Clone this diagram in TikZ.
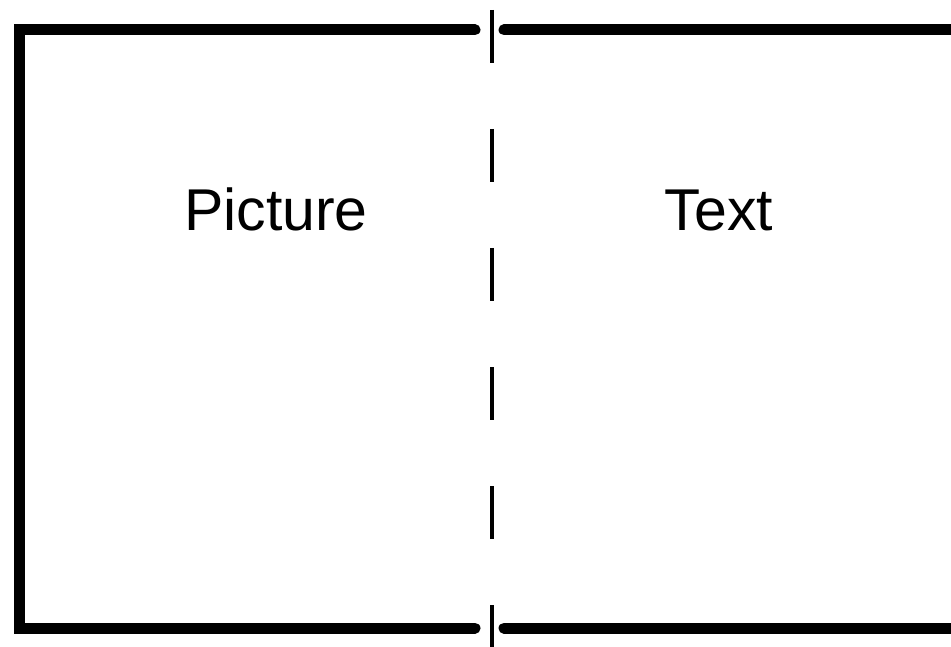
\documentclass[tikz,border=0pt]{standalone}
\usepackage{fontspec}
\setmainfont{Liberation Sans}
\begin{document}
\begin{tikzpicture}[x=1pt,y=-1pt,
  frame/.style={line width=11pt,line cap=round,line join=miter},
  fold/.style={line width=3.5pt,dash pattern=on 53pt off 66pt},
  label/.style={font=\fontsize{59}{62}\selectfont,anchor=base,inner sep=0pt}]
  \useasboundingbox (0,0) rectangle (951,647);
  % left panel: open bracket
  \draw[frame] (475,30) -- (19,30) -- (19,628) -- (475,628);
  % right panel: top and bottom edges
  \draw[frame] (504,30) -- (960,30);
  \draw[frame] (504,628) -- (960,628);
  % fold line
  \coordinate (foldtop) at (492,10);
  \coordinate (foldbot) at (492,650);
  \draw[fold] (foldtop) -- (foldbot);
  % panel labels
  \node[label] (picture) at (276,231) {Picture};
  \node[label] (text) at (719,231) {Text};
\end{tikzpicture}
\end{document}
